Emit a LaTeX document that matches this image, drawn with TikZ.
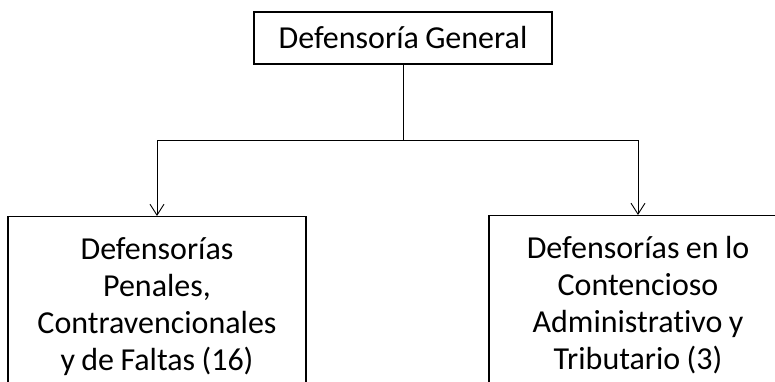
\documentclass[tikz,border=0pt]{standalone}
\usepackage{fontspec}
\setmainfont{Carlito}[WordSpace=0.75, Ligatures=NoCommon]
\usetikzlibrary{arrows.meta}

\begin{document}
\begin{tikzpicture}[x=1pt,y=1pt,
  unitbox/.style={draw=black, line width=1.1pt, fill=white, align=center, inner sep=0pt,
    font=\fontsize{32}{37}\selectfont, execute at begin node={\spaceskip=0.2em\relax}},
  branch/.style={line width=1pt, -{Straight Barb[length=11pt,width=14pt,line width=0.9pt]}}]
\useasboundingbox (0,0) rectangle (775,-381);
\clip (0,0) rectangle (775,-381);
\node[unitbox, minimum width=298, minimum height=52] (general) at (403,-38) {Defensoría General};
\node[unitbox, minimum width=298, minimum height=180, text width=290, anchor=north] (penales) at (157,-216)
  {Defensorías\\Penales,\\Contravencionales\\y de Faltas (16)};
\node[unitbox, minimum width=298, minimum height=180, text width=290, anchor=north] (contencioso) at (638,-215)
  {Defensorías en lo\\Contencioso\\Administrativo y\\Tributario (3)};
\coordinate (split) at (403,-140);
\draw[line width=1pt] (general.south) -- (split);
\draw[branch] (split) -| (penales.north);
\draw[branch] (split) -| (contencioso.north);
\end{tikzpicture}
\end{document}
